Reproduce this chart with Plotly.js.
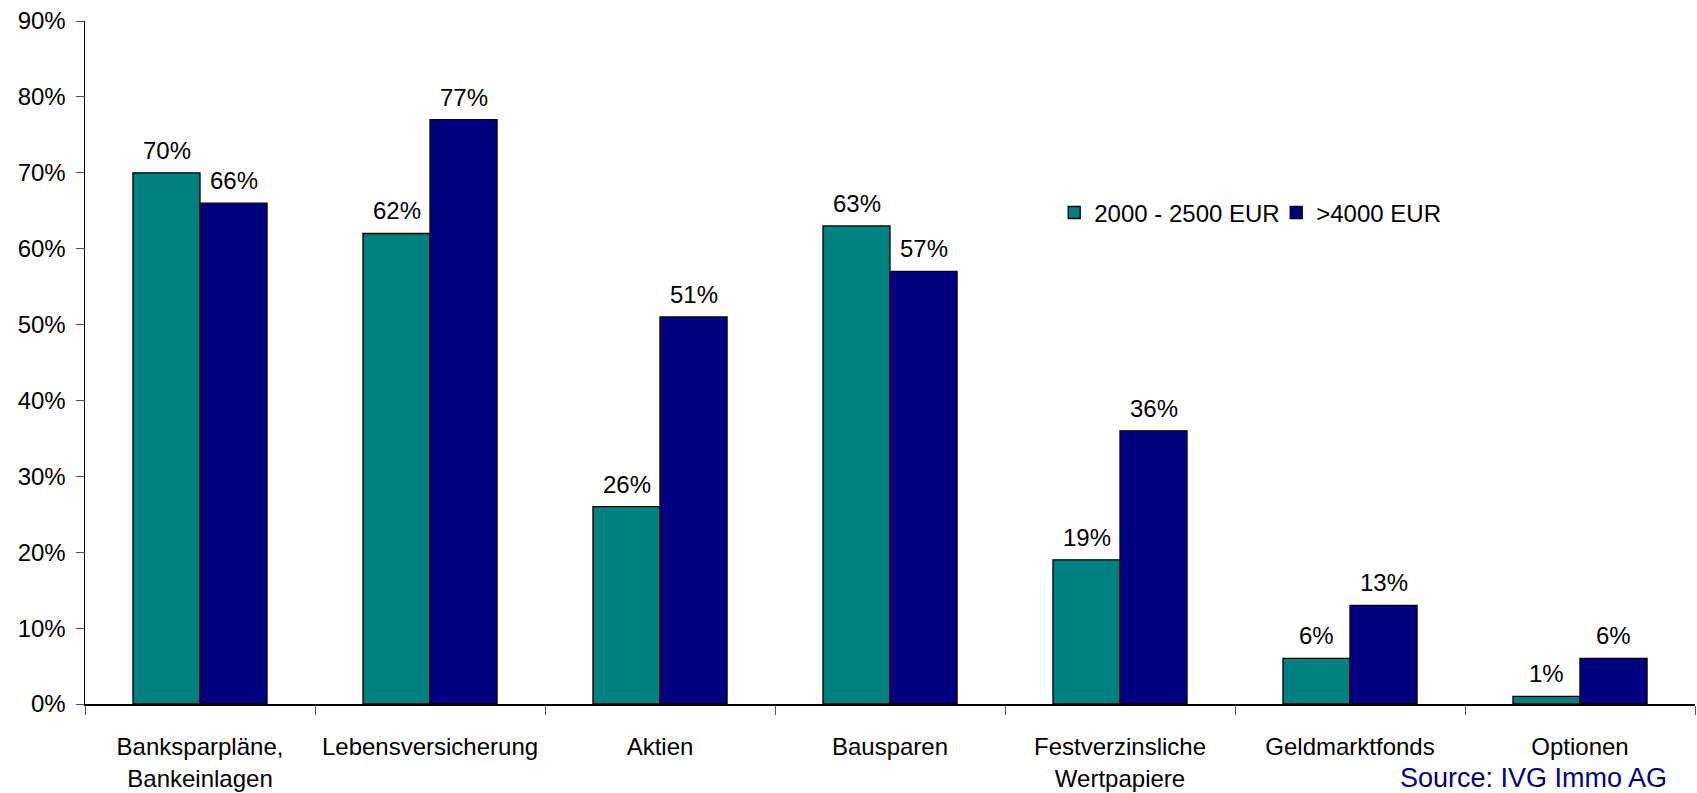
<!DOCTYPE html>
<html>
<head>
<meta charset="utf-8">
<script src="https://cdn.plot.ly/plotly-3.0.1.min.js"></script>
<style>html,body{margin:0;padding:0;background:#fff;}#chart{width:1697px;height:793px;}</style>
</head>
<body>
<div id="chart"></div>
<script>
const categories = ["Banksparpläne,<br>Bankeinlagen", "Lebensversicherung", "Aktien", "Bausparen", "Festverzinsliche<br>Wertpapiere", "Geldmarktfonds", "Optionen"];
const seriesNames = ["2000 - 2500 EUR", ">4000 EUR"];
const incomeLow = [0.70, 0.62, 0.26, 0.63, 0.19, 0.06, 0.01];
const incomeHigh = [0.66, 0.77, 0.51, 0.57, 0.36, 0.13, 0.06];
const yTicks = [0, 0.1, 0.2, 0.3, 0.4, 0.5, 0.6, 0.7, 0.8, 0.9];

const font = "Liberation Sans, Arial, Helvetica, sans-serif";
const colors = ["#008080", "#000080"];
const seriesData = [incomeLow, incomeHigh];

const traces = seriesData.map((vals, i) => ({
  type: "bar",
  name: seriesNames[i],
  x: categories,
  y: vals,
  marker: {color: colors[i], line: {color: "#000", width: 1.3}},
  hoverinfo: "x+y"
}));

const annotations = [];
seriesData.forEach((vals, i) => {
  vals.forEach((v, j) => {
    annotations.push({
      x: categories[j], y: v, xref: "x", yref: "y",
      text: Math.round(v * 100) + "%",
      showarrow: false, xanchor: "center", yanchor: "bottom",
      xshift: i === 0 ? -33.5 : 33.5, yshift: 7,
      font: {family: font, size: 24, color: "#000"}
    });
  });
});
annotations.push({
  x: 0.984, y: -0.108, xref: "paper", yref: "paper",
  text: "Source: IVG Immo AG", showarrow: false,
  xanchor: "right", yanchor: "middle",
  font: {family: font, size: 27, color: "#000080"}
});

const layout = {
  width: 1697, height: 793,
  margin: {l: 85, r: 2, t: 21, b: 89},
  paper_bgcolor: "#fff", plot_bgcolor: "#fff",
  barmode: "group", bargap: 0.417, bargroupgap: 0,
  font: {family: font, size: 24, color: "#000"},
  showlegend: true,
  legend: {
    orientation: "h", x: 0.602, y: 0.719, xanchor: "left", yanchor: "middle",
    font: {family: font, size: 24, color: "#000"},
    bgcolor: "rgba(0,0,0,0)", itemwidth: 30, traceorder: "normal",
    entrywidth: 177, entrywidthmode: "pixels"
  },
  xaxis: {
    type: "category",
    showline: true, linecolor: "#000", linewidth: 1.5,
    ticks: "outside", tickson: "boundaries", ticklen: 9, tickcolor: "#555", tickwidth: 1,
    showgrid: false, zeroline: false, ticklabelstandoff: 21,
    tickfont: {family: font, size: 24, color: "#000"}
  },
  yaxis: {
    range: [0, 0.9],
    tickvals: yTicks,
    ticktext: yTicks.map(v => Math.round(v * 100) + "%"),
    showline: true, linecolor: "#000", linewidth: 1.5,
    ticks: "outside", ticklen: 8, tickcolor: "#555", tickwidth: 1,
    showgrid: false, zeroline: false, ticklabelstandoff: 5,
    tickfont: {family: font, size: 24, color: "#000"}
  },
  annotations: annotations
};

Plotly.newPlot("chart", traces, layout, {displayModeBar: false, staticPlot: true});
</script>
</body>
</html>
